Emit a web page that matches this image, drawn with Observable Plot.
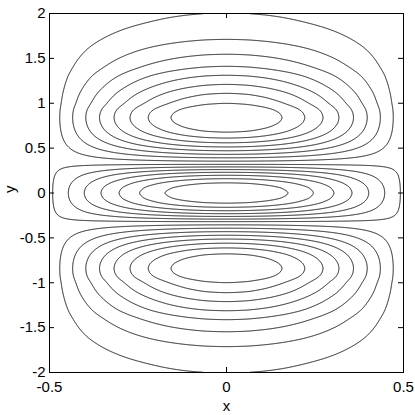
<!DOCTYPE html>
<html>
<head>
<meta charset="utf-8">
<script src="https://cdn.jsdelivr.net/npm/d3@7"></script>
<script src="https://cdn.jsdelivr.net/npm/@observablehq/plot@0.6"></script>
<style>
  html, body { margin: 0; padding: 0; background: #fff; }
  #chart { width: 415px; height: 415px; }
</style>
</head>
<body>
<div id="chart"></div>
<script>
// Contour levels of the field (arbitrary units)
const levels = [-6.2, -5.2, -4.2, -3.2, -2.2, -1.2, -0.2, 0.8, 1.8, 2.8, 3.8, 4.8, 5.8, 6.8, 7.8];

// Field profile along y at x = 0 (symmetric in y)
const profileY = [0, 0.05, 0.1, 0.15, 0.2, 0.25, 0.3, 0.325, 0.35, 0.4, 0.45, 0.5, 0.55, 0.6, 0.65, 0.7, 0.75, 0.8, 0.84, 0.88, 0.92, 1.0, 1.1, 1.2, 1.3, 1.4, 1.5, 1.6, 1.7, 1.8, 1.9, 2.0];
const profileYValue = [-7.25, -7.04, -6.42, -5.42, -4.13, -2.57, -0.88, 0, 0.67, 2.01, 3.29, 4.5, 5.61, 6.59, 7.41, 8.06, 8.51, 8.78, 8.85, 8.78, 8.58, 7.79, 6.9, 5.9, 4.92, 3.9, 3.12, 2.45, 1.86, 1.4, 1.05, 0.81];

// Relative field profile along x (symmetric in x)
const profileX = [0, 0.05, 0.1, 0.15, 0.2, 0.25, 0.3, 0.35, 0.4, 0.45, 0.5];
const profileXValue = [1, 0.988, 0.951, 0.891, 0.809, 0.707, 0.588, 0.454, 0.309, 0.156, 0];

// Axis ticks
const xTicks = [-0.5, 0, 0.5];
const yTicks = [-2, -1.5, -1, -0.5, 0, 0.5, 1, 1.5, 2];

// --- monotone cubic (PCHIP) through the read profile samples ---
function mirror(xs, vs) {
  const X = xs.slice(1).map(v => -v).reverse().concat(xs);
  const V = vs.slice(1).reverse().concat(vs);
  return [X, V];
}
function pchip(xs, ys) {
  const n = xs.length, h = [], d = [], m = new Array(n);
  for (let i = 0; i < n - 1; i++) { h[i] = xs[i + 1] - xs[i]; d[i] = (ys[i + 1] - ys[i]) / h[i]; }
  m[0] = d[0]; m[n - 1] = d[n - 2];
  for (let i = 1; i < n - 1; i++) {
    if (d[i - 1] * d[i] <= 0) m[i] = 0;
    else {
      const w1 = 2 * h[i] + h[i - 1], w2 = h[i] + 2 * h[i - 1];
      m[i] = (w1 + w2) / (w1 / d[i - 1] + w2 / d[i]);
    }
  }
  return t => {
    let i = d3.bisectRight(xs, t) - 1;
    i = Math.max(0, Math.min(n - 2, i));
    const s = (t - xs[i]) / h[i], s2 = s * s, s3 = s2 * s;
    return (2 * s3 - 3 * s2 + 1) * ys[i] + (s3 - 2 * s2 + s) * h[i] * m[i]
         + (-2 * s3 + 3 * s2) * ys[i + 1] + (s3 - s2) * h[i] * m[i + 1];
  };
}
const gY = pchip(...mirror(profileY, profileYValue));
const gX = pchip(...mirror(profileX, profileXValue));
const field = (x, y) => gX(x) * gY(y);

const W = 415, H = 415;
const mL = 49, mR = 12, mT = 13, mB = 43;
const plotW = W - mL - mR, plotH = H - mT - mB;
const tickLen = 5;
const fmt = d => String(d);

const chart = Plot.plot({
  width: W, height: H,
  marginLeft: mL, marginRight: mR, marginTop: mT, marginBottom: mB,
  style: { fontFamily: "'Liberation Sans', Arial, Helvetica, sans-serif", fontSize: "15px", color: "#000", background: "#fff" },
  x: { domain: [-0.5, 0.5] },
  y: { domain: [-2, 2] },
  marks: [
    Plot.contour({
      value: field,
      x1: -0.5, x2: 0.5, y1: -2, y2: 2,
      thresholds: levels,
      pixelSize: 0.5,
      fill: "none",
      stroke: "#000",
      strokeWidth: 0.9
    }),
    Plot.frame({ stroke: "#000", strokeWidth: 1 }),
    // inward tick marks on all four sides
    Plot.tickY(yTicks, { y: d => d, insetRight: plotW - tickLen, stroke: "#000" }),
    Plot.tickY(yTicks, { y: d => d, insetLeft: plotW - tickLen, stroke: "#000" }),
    Plot.tickX(xTicks, { x: d => d, insetTop: plotH - tickLen, stroke: "#000" }),
    Plot.tickX(xTicks, { x: d => d, insetBottom: plotH - tickLen, stroke: "#000" }),
    Plot.axisY(yTicks, { anchor: "left", tickSize: 0, tickPadding: 4, tickFormat: fmt, label: null, fontSize: 15 }),
    Plot.axisX(xTicks, { anchor: "bottom", tickSize: 0, tickPadding: 9, tickFormat: fmt, label: null, fontSize: 15 }),
    Plot.text(["x"], { frameAnchor: "bottom", dy: 38, fontSize: 15 }),
    Plot.text(["y"], { frameAnchor: "left", dx: -39, rotate: -90, fontSize: 15 })
  ]
});
document.getElementById("chart").appendChild(chart);
</script>
</body>
</html>
